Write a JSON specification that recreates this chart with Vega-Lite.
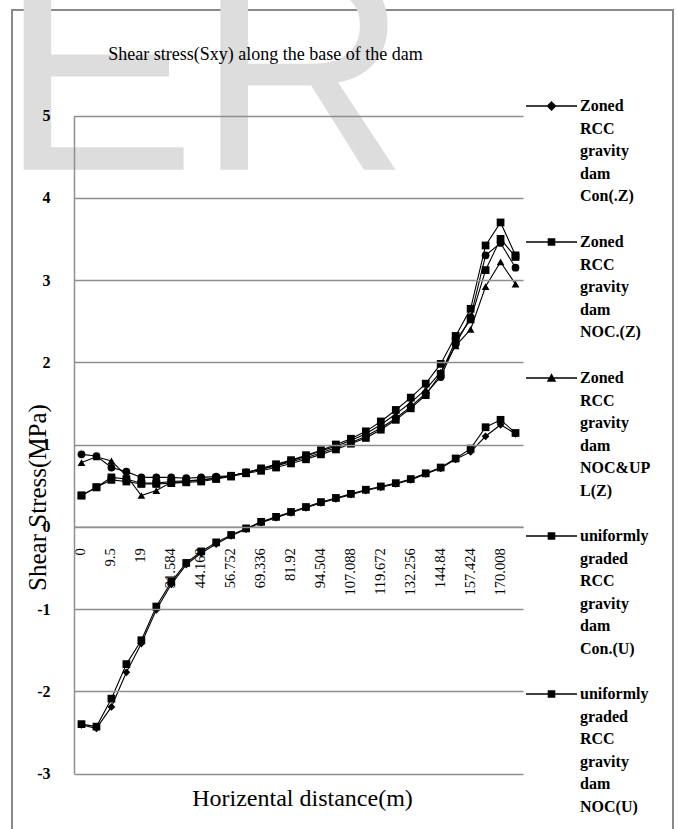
{
  "$schema": "https://vega.github.io/schema/vega-lite/v6.json",
  "width": 661,
  "height": 822,
  "autosize": "none",
  "padding": {"left": 12, "top": 10, "right": 5, "bottom": -3},
  "background": "white",
  "title": {
    "text": "Shear stress(Sxy) along the base of the dam",
    "font": "Liberation Serif", "fontSize": 18, "fontWeight": "normal", "color": "black",
    "anchor": "middle", "frame": "group", "baseline": "alphabetic", "offset": 0, "dx": -77, "dy": 144
  },
  "datasets": {
    "watermark": [{"word": "ER"}],
    "stress": [
      {"distance": "0", "series": "conZ", "stress": 0.88}, {"distance": "0", "series": "nocZ", "stress": 0.38}, {"distance": "0", "series": "nocuplZ", "stress": 0.78}, {"distance": "0", "series": "uplZ", "stress": 0.38}, {"distance": "0", "series": "conU", "stress": -2.40}, {"distance": "0", "series": "nocU", "stress": -2.41},
      {"distance": "4.75", "series": "conZ", "stress": 0.86}, {"distance": "4.75", "series": "nocZ", "stress": 0.48}, {"distance": "4.75", "series": "nocuplZ", "stress": 0.85}, {"distance": "4.75", "series": "uplZ", "stress": 0.48}, {"distance": "4.75", "series": "conU", "stress": -2.43}, {"distance": "4.75", "series": "nocU", "stress": -2.45},
      {"distance": "9.5", "series": "conZ", "stress": 0.72}, {"distance": "9.5", "series": "nocZ", "stress": 0.60}, {"distance": "9.5", "series": "nocuplZ", "stress": 0.80}, {"distance": "9.5", "series": "uplZ", "stress": 0.57}, {"distance": "9.5", "series": "conU", "stress": -2.09}, {"distance": "9.5", "series": "nocU", "stress": -2.19},
      {"distance": "14.25", "series": "conZ", "stress": 0.67}, {"distance": "14.25", "series": "nocZ", "stress": 0.58}, {"distance": "14.25", "series": "nocuplZ", "stress": 0.62}, {"distance": "14.25", "series": "uplZ", "stress": 0.55}, {"distance": "14.25", "series": "conU", "stress": -1.67}, {"distance": "14.25", "series": "nocU", "stress": -1.77},
      {"distance": "19", "series": "conZ", "stress": 0.60}, {"distance": "19", "series": "nocZ", "stress": 0.53}, {"distance": "19", "series": "nocuplZ", "stress": 0.38}, {"distance": "19", "series": "uplZ", "stress": 0.52}, {"distance": "19", "series": "conU", "stress": -1.38}, {"distance": "19", "series": "nocU", "stress": -1.42},
      {"distance": "25.292", "series": "conZ", "stress": 0.60}, {"distance": "25.292", "series": "nocZ", "stress": 0.53}, {"distance": "25.292", "series": "nocuplZ", "stress": 0.44}, {"distance": "25.292", "series": "uplZ", "stress": 0.52}, {"distance": "25.292", "series": "conU", "stress": -0.97}, {"distance": "25.292", "series": "nocU", "stress": -1.01},
      {"distance": "31.584", "series": "conZ", "stress": 0.60}, {"distance": "31.584", "series": "nocZ", "stress": 0.55}, {"distance": "31.584", "series": "nocuplZ", "stress": 0.54}, {"distance": "31.584", "series": "uplZ", "stress": 0.53}, {"distance": "31.584", "series": "conU", "stress": -0.67}, {"distance": "31.584", "series": "nocU", "stress": -0.70},
      {"distance": "37.876", "series": "conZ", "stress": 0.59}, {"distance": "37.876", "series": "nocZ", "stress": 0.56}, {"distance": "37.876", "series": "nocuplZ", "stress": 0.55}, {"distance": "37.876", "series": "uplZ", "stress": 0.54}, {"distance": "37.876", "series": "conU", "stress": -0.44}, {"distance": "37.876", "series": "nocU", "stress": -0.46},
      {"distance": "44.168", "series": "conZ", "stress": 0.60}, {"distance": "44.168", "series": "nocZ", "stress": 0.57}, {"distance": "44.168", "series": "nocuplZ", "stress": 0.57}, {"distance": "44.168", "series": "uplZ", "stress": 0.55}, {"distance": "44.168", "series": "conU", "stress": -0.30}, {"distance": "44.168", "series": "nocU", "stress": -0.32},
      {"distance": "50.46", "series": "conZ", "stress": 0.61}, {"distance": "50.46", "series": "nocZ", "stress": 0.59}, {"distance": "50.46", "series": "nocuplZ", "stress": 0.59}, {"distance": "50.46", "series": "uplZ", "stress": 0.58}, {"distance": "50.46", "series": "conU", "stress": -0.19}, {"distance": "50.46", "series": "nocU", "stress": -0.21},
      {"distance": "56.752", "series": "conZ", "stress": 0.62}, {"distance": "56.752", "series": "nocZ", "stress": 0.62}, {"distance": "56.752", "series": "nocuplZ", "stress": 0.62}, {"distance": "56.752", "series": "uplZ", "stress": 0.61}, {"distance": "56.752", "series": "conU", "stress": -0.10}, {"distance": "56.752", "series": "nocU", "stress": -0.11},
      {"distance": "63.044", "series": "conZ", "stress": 0.66}, {"distance": "63.044", "series": "nocZ", "stress": 0.66}, {"distance": "63.044", "series": "nocuplZ", "stress": 0.66}, {"distance": "63.044", "series": "uplZ", "stress": 0.65}, {"distance": "63.044", "series": "conU", "stress": -0.02}, {"distance": "63.044", "series": "nocU", "stress": -0.03},
      {"distance": "69.336", "series": "conZ", "stress": 0.70}, {"distance": "69.336", "series": "nocZ", "stress": 0.71}, {"distance": "69.336", "series": "nocuplZ", "stress": 0.70}, {"distance": "69.336", "series": "uplZ", "stress": 0.68}, {"distance": "69.336", "series": "conU", "stress": 0.06}, {"distance": "69.336", "series": "nocU", "stress": 0.05},
      {"distance": "75.628", "series": "conZ", "stress": 0.74}, {"distance": "75.628", "series": "nocZ", "stress": 0.76}, {"distance": "75.628", "series": "nocuplZ", "stress": 0.75}, {"distance": "75.628", "series": "uplZ", "stress": 0.72}, {"distance": "75.628", "series": "conU", "stress": 0.12}, {"distance": "75.628", "series": "nocU", "stress": 0.11},
      {"distance": "81.92", "series": "conZ", "stress": 0.79}, {"distance": "81.92", "series": "nocZ", "stress": 0.81}, {"distance": "81.92", "series": "nocuplZ", "stress": 0.80}, {"distance": "81.92", "series": "uplZ", "stress": 0.77}, {"distance": "81.92", "series": "conU", "stress": 0.18}, {"distance": "81.92", "series": "nocU", "stress": 0.17},
      {"distance": "88.212", "series": "conZ", "stress": 0.84}, {"distance": "88.212", "series": "nocZ", "stress": 0.87}, {"distance": "88.212", "series": "nocuplZ", "stress": 0.86}, {"distance": "88.212", "series": "uplZ", "stress": 0.82}, {"distance": "88.212", "series": "conU", "stress": 0.24}, {"distance": "88.212", "series": "nocU", "stress": 0.23},
      {"distance": "94.504", "series": "conZ", "stress": 0.90}, {"distance": "94.504", "series": "nocZ", "stress": 0.93}, {"distance": "94.504", "series": "nocuplZ", "stress": 0.92}, {"distance": "94.504", "series": "uplZ", "stress": 0.88}, {"distance": "94.504", "series": "conU", "stress": 0.30}, {"distance": "94.504", "series": "nocU", "stress": 0.29},
      {"distance": "100.796", "series": "conZ", "stress": 0.96}, {"distance": "100.796", "series": "nocZ", "stress": 1.00}, {"distance": "100.796", "series": "nocuplZ", "stress": 0.98}, {"distance": "100.796", "series": "uplZ", "stress": 0.94}, {"distance": "100.796", "series": "conU", "stress": 0.35}, {"distance": "100.796", "series": "nocU", "stress": 0.34},
      {"distance": "107.088", "series": "conZ", "stress": 1.02}, {"distance": "107.088", "series": "nocZ", "stress": 1.07}, {"distance": "107.088", "series": "nocuplZ", "stress": 1.05}, {"distance": "107.088", "series": "uplZ", "stress": 1.01}, {"distance": "107.088", "series": "conU", "stress": 0.40}, {"distance": "107.088", "series": "nocU", "stress": 0.39},
      {"distance": "113.38", "series": "conZ", "stress": 1.10}, {"distance": "113.38", "series": "nocZ", "stress": 1.16}, {"distance": "113.38", "series": "nocuplZ", "stress": 1.13}, {"distance": "113.38", "series": "uplZ", "stress": 1.08}, {"distance": "113.38", "series": "conU", "stress": 0.45}, {"distance": "113.38", "series": "nocU", "stress": 0.44},
      {"distance": "119.672", "series": "conZ", "stress": 1.20}, {"distance": "119.672", "series": "nocZ", "stress": 1.28}, {"distance": "119.672", "series": "nocuplZ", "stress": 1.24}, {"distance": "119.672", "series": "uplZ", "stress": 1.18}, {"distance": "119.672", "series": "conU", "stress": 0.49}, {"distance": "119.672", "series": "nocU", "stress": 0.48},
      {"distance": "125.964", "series": "conZ", "stress": 1.32}, {"distance": "125.964", "series": "nocZ", "stress": 1.42}, {"distance": "125.964", "series": "nocuplZ", "stress": 1.37}, {"distance": "125.964", "series": "uplZ", "stress": 1.30}, {"distance": "125.964", "series": "conU", "stress": 0.53}, {"distance": "125.964", "series": "nocU", "stress": 0.52},
      {"distance": "132.256", "series": "conZ", "stress": 1.46}, {"distance": "132.256", "series": "nocZ", "stress": 1.57}, {"distance": "132.256", "series": "nocuplZ", "stress": 1.51}, {"distance": "132.256", "series": "uplZ", "stress": 1.44}, {"distance": "132.256", "series": "conU", "stress": 0.58}, {"distance": "132.256", "series": "nocU", "stress": 0.57},
      {"distance": "138.548", "series": "conZ", "stress": 1.62}, {"distance": "138.548", "series": "nocZ", "stress": 1.74}, {"distance": "138.548", "series": "nocuplZ", "stress": 1.67}, {"distance": "138.548", "series": "uplZ", "stress": 1.60}, {"distance": "138.548", "series": "conU", "stress": 0.65}, {"distance": "138.548", "series": "nocU", "stress": 0.64},
      {"distance": "144.84", "series": "conZ", "stress": 1.82}, {"distance": "144.84", "series": "nocZ", "stress": 1.98}, {"distance": "144.84", "series": "nocuplZ", "stress": 1.88}, {"distance": "144.84", "series": "uplZ", "stress": 1.86}, {"distance": "144.84", "series": "conU", "stress": 0.72}, {"distance": "144.84", "series": "nocU", "stress": 0.71},
      {"distance": "151.132", "series": "conZ", "stress": 2.22}, {"distance": "151.132", "series": "nocZ", "stress": 2.32}, {"distance": "151.132", "series": "nocuplZ", "stress": 2.20}, {"distance": "151.132", "series": "uplZ", "stress": 2.26}, {"distance": "151.132", "series": "conU", "stress": 0.83}, {"distance": "151.132", "series": "nocU", "stress": 0.82},
      {"distance": "157.424", "series": "conZ", "stress": 2.55}, {"distance": "157.424", "series": "nocZ", "stress": 2.65}, {"distance": "157.424", "series": "nocuplZ", "stress": 2.40}, {"distance": "157.424", "series": "uplZ", "stress": 2.52}, {"distance": "157.424", "series": "conU", "stress": 0.95}, {"distance": "157.424", "series": "nocU", "stress": 0.91},
      {"distance": "163.716", "series": "conZ", "stress": 3.30}, {"distance": "163.716", "series": "nocZ", "stress": 3.42}, {"distance": "163.716", "series": "nocuplZ", "stress": 2.92}, {"distance": "163.716", "series": "uplZ", "stress": 3.12}, {"distance": "163.716", "series": "conU", "stress": 1.21}, {"distance": "163.716", "series": "nocU", "stress": 1.10},
      {"distance": "170.008", "series": "conZ", "stress": 3.45}, {"distance": "170.008", "series": "nocZ", "stress": 3.70}, {"distance": "170.008", "series": "nocuplZ", "stress": 3.22}, {"distance": "170.008", "series": "uplZ", "stress": 3.50}, {"distance": "170.008", "series": "conU", "stress": 1.30}, {"distance": "170.008", "series": "nocU", "stress": 1.24},
      {"distance": "176.3", "series": "conZ", "stress": 3.15}, {"distance": "176.3", "series": "nocZ", "stress": 3.30}, {"distance": "176.3", "series": "nocuplZ", "stress": 2.95}, {"distance": "176.3", "series": "uplZ", "stress": 3.28}, {"distance": "176.3", "series": "conU", "stress": 1.14}, {"distance": "176.3", "series": "nocU", "stress": 1.13}
    ]
  },
  "layer": [
    {
      "data": {"name": "watermark"},
      "mark": {"type": "text", "font": "Liberation Sans", "fontSize": 295, "fill": "#dddddd", "opacity": 1, "align": "left", "baseline": "alphabetic", "dx": -82},
      "encoding": {
        "x": {"datum": "0"},
        "y": {"datum": 4.34},
        "text": {"field": "word", "type": "nominal"}
      }
    },
    {
      "data": {"name": "stress"},
      "mark": {"type": "line", "color": "black", "strokeWidth": 1.1},
      "encoding": {
        "x": {
          "field": "distance", "type": "ordinal",
          "scale": {
            "type": "band", "paddingInner": 0, "paddingOuter": 0, "range": [62, 511],
            "domain": ["0", "4.75", "9.5", "14.25", "19", "25.292", "31.584", "37.876", "44.168", "50.46", "56.752", "63.044", "69.336", "75.628", "81.92", "88.212", "94.504", "100.796", "107.088", "113.38", "119.672", "125.964", "132.256", "138.548", "144.84", "151.132", "157.424", "163.716", "170.008", "176.3"]
          },
          "axis": {
            "orient": "bottom", "offset": -305.25, "zindex": 0,
            "values": ["0", "9.5", "19", "31.584", "44.168", "56.752", "69.336", "81.92", "94.504", "107.088", "119.672", "132.256", "144.84", "157.424", "170.008"],
            "grid": false, "ticks": false,
            "domain": true, "domainColor": "#8f8f8f", "domainWidth": 1.5,
            "labelAngle": -90, "labelPadding": 21, "labelOverlap": false,
            "labelFont": "Liberation Serif", "labelFontSize": 14.5, "labelColor": "black",
            "title": "Horizental distance(m)", "titleFont": "Liberation Serif", "titleFontSize": 24,
            "titleFontWeight": "normal", "titleColor": "black",
            "titleX": 290, "titleY": 279, "titleBaseline": "alphabetic"
          }
        },
        "y": {
          "field": "stress", "type": "quantitative",
          "scale": {"domain": [-3, 5], "nice": false, "zero": false, "range": [763.5, 105.5]},
          "axis": {
            "orient": "left", "offset": -62, "zindex": 1,
            "values": [-3, -2, -1, 0, 1, 2, 3, 4, 5],
            "grid": true, "gridColor": "#8f8f8f", "gridWidth": 1.3,
            "domain": true, "domainColor": "#8f8f8f", "domainWidth": 1.5, "ticks": false,
            "labelPadding": 24, "labelFont": "Liberation Serif", "labelFontSize": 16,
            "labelFontWeight": "bold", "labelColor": "black", "labelExpr": "datum.value",
            "title": "Shear Stress(MPa)", "titleFont": "Liberation Serif", "titleFontSize": 25,
            "titleFontWeight": "normal", "titleColor": "black",
            "titleAngle": 270, "titleX": -37, "titleY": 487, "titleBaseline": "middle"
          }
        },
        "detail": {"field": "series"}
      }
    },
    {
      "data": {"name": "stress"},
      "mark": {"type": "point", "filled": true, "color": "black", "opacity": 1, "size": 60},
      "encoding": {
        "x": {"field": "distance", "type": "ordinal"},
        "y": {"field": "stress", "type": "quantitative"},
        "shape": {
          "field": "series", "type": "nominal", "legend": null,
          "scale": {
            "domain": ["conZ", "nocZ", "nocuplZ", "uplZ", "conU", "nocU"],
            "range": ["circle", "square", "triangle-up", "square", "square", "diamond"]
          }
        }
      }
    },
    {
      "data": {"values": []},
      "mark": {"type": "point", "filled": true, "color": "black", "opacity": 1},
      "encoding": {
        "shape": {
          "field": "entry", "type": "nominal",
          "scale": {
            "domain": ["Zoned RCC gravity dam Con(.Z)", "Zoned RCC gravity dam NOC.(Z)", "Zoned RCC gravity dam NOC&UPL(Z)", "uniformly graded RCC gravity dam Con.(U)", "uniformly graded RCC gravity dam NOC(U)"],
            "range": [
              "M-1,1.47H9.2V1.73H-1ZM4.1,0.6L5.1,1.6L4.1,2.6L3.1,1.6Z",
              "M-1,1.47H9.2V1.73H-1ZM3.34,0.84H4.86V2.36H3.34Z",
              "M-1,1.47H9.2V1.73H-1ZM4.1,0.65L5.05,2.35H3.15Z",
              "M-1,1.47H9.2V1.73H-1ZM3.34,0.84H4.86V2.36H3.34Z",
              "M-1,1.47H9.2V1.73H-1ZM3.34,0.84H4.86V2.36H3.34Z"
            ]
          },
          "legend": {
            "orient": "none", "legendX": 511, "legendY": 80, "title": null, "padding": 0,
            "labelFont": "Liberation Serif", "labelFontSize": 16, "labelFontWeight": "bold",
            "labelColor": "black", "labelLimit": 0, "labelOffset": 41, "labelBaseline": "top",
            "rowPadding": 21, "symbolSize": 100, "symbolFillColor": "black", "symbolStrokeWidth": 0,
            "labelExpr": "split(replace(datum.label, 'NOC&UPL', 'NOC&UP L'), ' ')"
          }
        }
      }
    }
  ],
  "resolve": {"scale": {"shape": "independent"}, "legend": {"shape": "independent"}},
  "config": {
    "view": {"stroke": "#8a8a8a", "strokeWidth": 2},
    "style": {"guide-label": {"lineHeight": 22.6}}
  }
}
